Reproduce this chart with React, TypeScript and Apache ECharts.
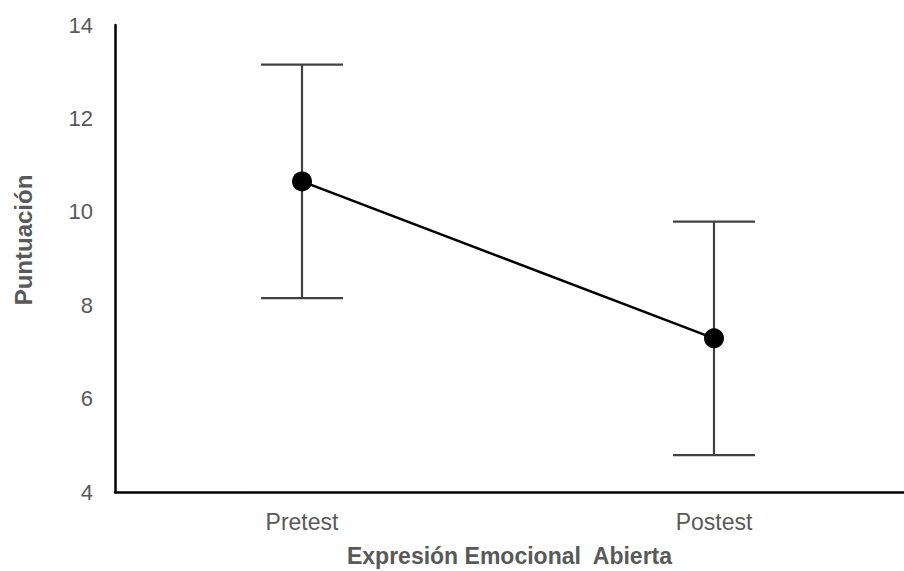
import React, { useEffect, useRef } from "react";
import * as echarts from "echarts";

const categories = ["Pretest", "Postest"];
const means = [10.65, 7.29];
const lowers = [8.15, 4.79];
const uppers = [13.15, 9.79];
const yTicks = [4, 6, 8, 10, 12, 14];

const FONT = "'Liberation Sans', Arial, sans-serif";
const TEXT = "#595959";

export default function App() {
  const ref = useRef<HTMLDivElement>(null);
  useEffect(() => {
    if (!ref.current) return;
    const chart = echarts.init(ref.current, null, { renderer: "svg" });
    const lineData = means.map((m, i) => [i, m]);
    const errData = means.map((_, i) => [i, lowers[i], uppers[i]]);
    chart.setOption({
      animation: false,
      backgroundColor: "#ffffff",
      grid: { left: 115, top: 25, right: 0, bottom: 79, containLabel: false, outerBoundsMode: "none" },
      xAxis: {
        type: "value",
        min: -0.4539,
        max: 1.4612,
        name: "Expresión Emocional  Abierta",
        nameLocation: "middle",
        nameGap: 52,
        nameTextStyle: { fontFamily: FONT, fontSize: 23, fontWeight: "bold", color: TEXT },
        axisLine: { show: true, onZero: false, lineStyle: { color: "#000", width: 2.5 } },
        axisTick: { show: false },
        splitLine: { show: false },
        axisLabel: {
          customValues: [0, 1],
          formatter: (v: number) => categories[Math.round(v)] ?? "",
          fontFamily: FONT,
          fontSize: 23,
          color: TEXT,
          margin: 18,
        },
      },
      yAxis: {
        type: "value",
        min: yTicks[0],
        max: yTicks[yTicks.length - 1],
        interval: 2,
        axisLine: { show: true, onZero: false, lineStyle: { color: "#000", width: 2.5 } },
        axisTick: { show: false },
        splitLine: { show: false },
        axisLabel: { fontFamily: FONT, fontSize: 22, color: TEXT, margin: 22 },
      },
      graphic: [
        {
          type: "text",
          x: 23,
          y: 240,
          rotation: Math.PI / 2,
          style: {
            text: "Puntuación",
            fontFamily: FONT,
            fontSize: 24,
            fontWeight: "bold",
            fill: TEXT,
            align: "center",
            verticalAlign: "middle",
          },
        },
      ],
      series: [
        {
          type: "custom",
          data: errData,
          z: 2,
          renderItem: (params: any, api: any) => {
            const x = api.value(0);
            const lo = api.coord([x, api.value(1)]);
            const hi = api.coord([x, api.value(2)]);
            const hw = 41;
            const style = { stroke: "#404040", lineWidth: 2.2 };
            return {
              type: "group",
              children: [
                { type: "line", shape: { x1: lo[0], y1: lo[1], x2: hi[0], y2: hi[1] }, style },
                { type: "line", shape: { x1: hi[0] - hw, y1: hi[1], x2: hi[0] + hw, y2: hi[1] }, style },
                { type: "line", shape: { x1: lo[0] - hw, y1: lo[1], x2: lo[0] + hw, y2: lo[1] }, style },
              ],
            };
          },
        },
        {
          type: "line",
          data: lineData,
          z: 3,
          symbol: "circle",
          symbolSize: 20,
          itemStyle: { color: "#000" },
          lineStyle: { color: "#000", width: 2.5 },
        },
      ],
    });
    return () => chart.dispose();
  }, []);
  return (
    <div
      ref={ref}
      style={{ position: "fixed", left: 0, top: 0, width: 904, height: 571 }}
    />
  );
}
